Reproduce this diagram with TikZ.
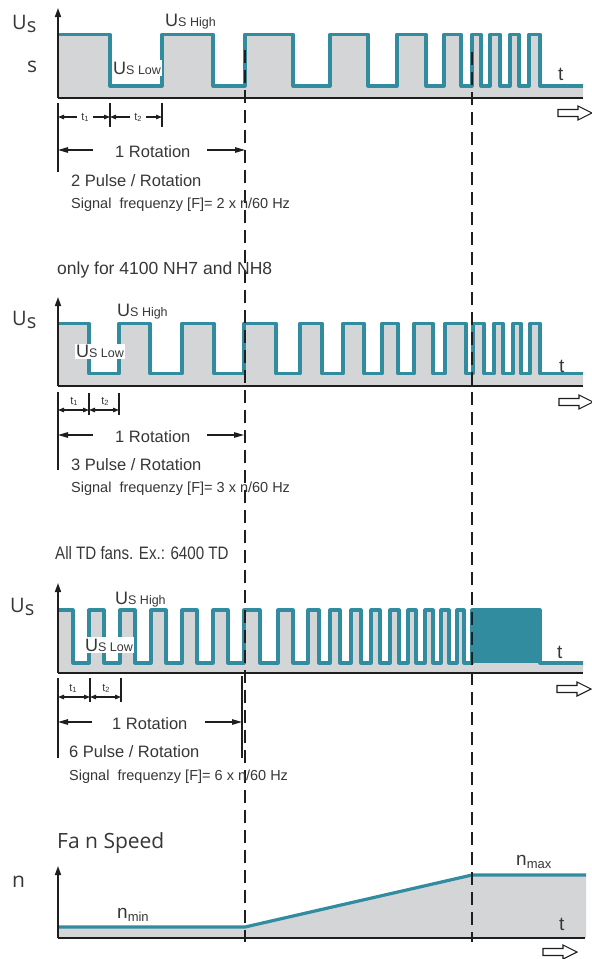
\documentclass[tikz,border=0pt]{standalone}
\usepackage{fontspec}
\setmainfont{Liberation Sans}
\newfontfamily\myr{Open Sans}
\usetikzlibrary{arrows.meta}
\definecolor{teal1}{RGB}{50,140,160}
\definecolor{fillg}{RGB}{212,213,215}
\definecolor{txt}{RGB}{55,55,55}
\definecolor{axc}{RGB}{30,30,30}
\newcommand\fs[1]{\fontsize{#1}{#1}\selectfont}
\newcommand\tlab[1]{\fs{11}t\raisebox{-1pt}{\fs{7.5}#1}}
% waveforms (x in px, y downwards)
\newcommand\waveone{(58,34.5) -- (110,34.5) -- (110,86) \foreach \r/\f in {162/213,245/293,330/368,397/426,444/461,472/481,490/500,510/519,529/540}{ -- (\r,86) -- (\r,34.5) -- (\f,34.5) -- (\f,86)} -- (583,86)}
\newcommand\wavetwo{(58,323.5) -- (89,323.5) -- (89,373.5) \foreach \r/\f in {119/150,182/214,244/276,300/322,343/364,382/398,414/433,445/466,473/484,494/503,513/521,530/540}{ -- (\r,373.5) -- (\r,323.5) -- (\f,323.5) -- (\f,373.5)} -- (583,373.5)}
\newcommand\wavethree{(58,610) -- (73,610) -- (73,663) \foreach \r/\f in {89/104,120/135,151/166,182/197,213/228,244/260,278/293,308/319,330/340,351/361,371/380,390/399,408/416,425/433,441/449,457/464,472/540}{ -- (\r,663) -- (\r,610) -- (\f,610) -- (\f,663)} -- (583,663)}
\begin{document}
\begin{tikzpicture}[x=1pt,y=-1pt,
  wave/.style={draw=teal1, line width=3.2pt, line join=round},
  axisline/.style={draw=axc, line width=1.8pt},
  yaxis/.style={draw=axc, line width=1.6pt, -{Triangle[length=9pt,width=6pt]}},
  dimline/.style={draw=axc, line width=1.1pt},
  rotarrow/.style={draw=axc, line width=1.2pt, -{Triangle[length=10pt,width=5.5pt]}},
  tarrow/.style={draw=axc, line width=1.1pt, {Triangle[length=6pt,width=4.5pt]}-{Triangle[length=6pt,width=4.5pt]}},
  tarrowone/.style={draw=axc, line width=1.1pt, -{Triangle[length=6pt,width=4.5pt]}},
  dashline/.style={draw=axc, line width=2.4pt, dash pattern=on 13pt off 7pt},
  lbl/.style={text=txt, inner sep=0pt, anchor=base west},
  tl/.style={text=txt, inner sep=0pt, anchor=center},
  hollow/.pic={\draw[line width=1.1pt, draw=axc, fill=white] (0,-3.5) -- (20,-3.5) -- (20,-7) -- (34,0) -- (20,7) -- (20,3.5) -- (0,3.5) -- cycle;},
]
\useasboundingbox[fill=white] (0,0) rectangle (592,959);

% ---------- fills ----------
\fill[fillg] (58,98) -- \waveone -- (583,98) -- cycle;
\fill[fillg] (58,386) -- \wavetwo -- (583,386) -- cycle;
\fill[fillg] (58,673) -- \wavethree -- (583,673) -- cycle;
\fill[fillg] (58,938) -- (58,927) -- (245,927) -- (472,875) -- (586,875) -- (586,938) -- cycle;

% ---------- waveforms ----------
\draw[wave] \waveone;
\draw[wave] \wavetwo;
\fill[teal1] (472,610) rectangle (540,663);
\draw[wave] \wavethree;
\draw[wave] (58,927) -- (245,927) -- (472,875) -- (586,875);

% ---------- axes ----------
\draw[axisline] (58,98) -- (583,98);
\draw[yaxis] (58,98) -- (58,8);
\draw[axisline] (58,386) -- (583,386);
\draw[yaxis] (58,386) -- (58,297);
\draw[axisline] (58,673) -- (583,673);
\draw[yaxis] (58,673) -- (58,583);
\draw[axisline] (58,938) -- (585,938);
\draw[yaxis] (58,938) -- (58,866);

\pic at (558,113) {hollow};
\pic at (559,402) {hollow};
\pic at (557,689) {hollow};
\pic at (543,952) {hollow};

% ---------- dimensions panel 1 ----------
\draw[dimline] (58,103) -- (58,172);
\draw[dimline] (110,103) -- (110,127);
\draw[dimline] (162,103) -- (162,127);
\draw[tarrowone] (77,117) -- (58,117);
\draw[tarrowone] (93,117) -- (110,117);
\draw[tarrowone] (130,117) -- (110,117);
\draw[tarrowone] (146,117) -- (162,117);
\node[tl] (t1a) at (85,117) {\tlab{1}};
\node[tl] (t2a) at (138,117) {\tlab{2}};
\draw[rotarrow] (93,150) -- (58,150);
\draw[rotarrow] (207,150) -- (245,150);

% ---------- dimensions panel 2 ----------
\draw[dimline] (58,392) -- (58,470);
\draw[dimline] (89,393) -- (89,415);
\draw[dimline] (119,393) -- (119,415);
\draw[tarrow] (58,410) -- (89,410);
\draw[tarrow] (89,410) -- (119,410);
\node[tl] (t1b) at (74,401) {\tlab{1}};
\node[tl] (t2b) at (105,401) {\tlab{2}};
\draw[rotarrow] (93,435) -- (58,435);
\draw[rotarrow] (207,435) -- (244,435);

% ---------- dimensions panel 3 ----------
\draw[dimline] (58,678) -- (58,758);
\draw[dimline] (90,678) -- (90,702);
\draw[dimline] (121,678) -- (121,702);
\draw[dimline] (242,676) -- (242,758);
\draw[tarrow] (58,697) -- (90,697);
\draw[tarrow] (90,697) -- (121,697);
\node[tl] (t1c) at (73,688) {\tlab{1}};
\node[tl] (t2c) at (106,688) {\tlab{2}};
\draw[rotarrow] (92,722) -- (58,722);
\draw[rotarrow] (205,722) -- (242,722);

% ---------- dashed lines ----------
\draw[dashline] (245,50) -- (245,942);
\draw[dashline] (472,52) -- (472,942);

% ---------- texts panel 1 ----------
\node[lbl] (us1) at (12,29) {\myr\fs{20}U\raisebox{-3pt}{s}};
\node[lbl] (s1) at (27,72) {\myr\fs{21}s};
\node[lbl] (hi1) at (165,26.5) {\fs{18}U\fs{12.5}S High};
\node[lbl, fill=white, inner sep=1.5pt] (lo1) at (111.5,74) {\fs{18}U\fs{12.5}S Low};
\node[lbl] (tt1) at (558,80) {\fs{19}t};
\node[lbl] (rot1) at (115,157) {\fs{16.5}1 Rotation};
\node[lbl] (pr1) at (71,186) {\fs{16.5}2 Pulse / Rotation};
\node[lbl] (sf1) at (71,208.5) {\fs{14.5}Signal\ \ frequenzy [F]= 2 x n/60 Hz};

% ---------- texts panel 2 ----------
\node[lbl] (hd2) at (57,274.5) {\fs{17.5}only for 4100 NH7 and NH8};
\node[lbl] (us2) at (12,325) {\myr\fs{20}U\raisebox{-3pt}{s}};
\node[lbl] (hi2) at (117,316) {\fs{18}U\fs{12.5}S High};
\node[lbl, fill=white, inner sep=1.5pt] (lo2) at (74.5,357.5) {\fs{18}U\fs{12.5}S Low};
\node[lbl] (tt2) at (559,372) {\fs{19}t};
\node[lbl] (rot2) at (115,442) {\fs{16.5}1 Rotation};
\node[lbl] (pr2) at (71,470) {\fs{16.5}3 Pulse / Rotation};
\node[lbl] (sf2) at (71,492.5) {\fs{14.5}Signal\ \ frequenzy [F]= 3 x n/60 Hz};

% ---------- texts panel 3 ----------
\node[lbl] (hd3) at (55,559) {\scalebox{0.84}[1]{\fs{18}All TD fans. Ex.: 6400 TD}};
\node[lbl] (us3) at (10,612) {\myr\fs{20}U\raisebox{-3pt}{s}};
\node[lbl] (hi3) at (115,604.5) {\fs{18}U\fs{12.5}S High};
\node[lbl, fill=white, inner sep=1.5pt] (lo3) at (83.5,651) {\fs{18}U\fs{12.5}S Low};
\node[lbl] (tt3) at (557,658) {\fs{19}t};
\node[lbl] (rot3) at (112,729) {\fs{16.5}1 Rotation};
\node[lbl] (pr3) at (69,757) {\fs{16.5}6 Pulse / Rotation};
\node[lbl] (sf3) at (69,780) {\fs{14.5}Signal\ \ frequenzy [F]= 6 x n/60 Hz};

% ---------- fan speed ----------
\node[lbl] (fs4) at (57,848) {\myr\fs{21}Fa n Speed};
\node[lbl] (n4) at (12,887) {\myr\fs{21}n};
\node[lbl] (nmin) at (117,918) {\fs{19}n\raisebox{-3pt}{\fs{13}min}};
\node[lbl] (nmax) at (516,865) {\fs{19}n\raisebox{-3pt}{\fs{13}max}};
\node[lbl] (tt4) at (559,930) {\fs{19}t};
\end{tikzpicture}
\end{document}
